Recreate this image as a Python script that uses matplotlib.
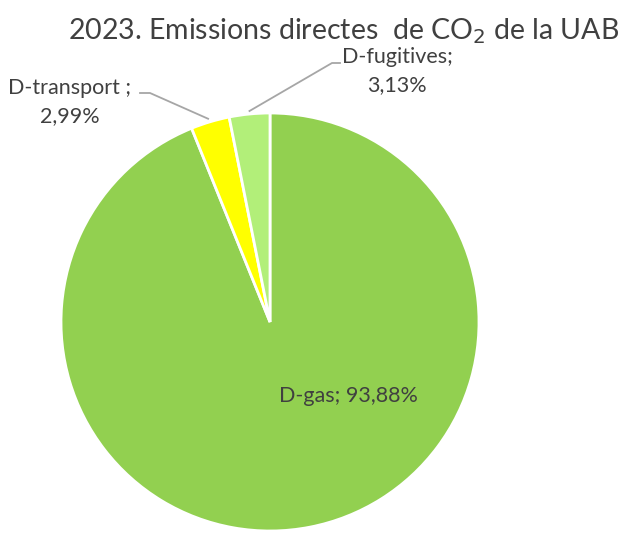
import numpy as np
import matplotlib
matplotlib.use("Agg")
import matplotlib.pyplot as plt

labels = ["D-gas", "D-transport ", "D-fugitives"]
shares = [93.88, 2.99, 3.13]
colors = ["#92D050", "#FFFF00", "#B2EF79"]

plt.rcParams['font.family'] = ['Lato', 'DejaVu Sans']
txtcol = "#404040"

fig = plt.figure(figsize=(6.24, 5.36), dpi=100)
ax = fig.add_axes([0, 0, 1, 1])

cx, cy, r = 270, 536 - 322, 209
wedges, _ = ax.pie(shares, colors=colors, startangle=90, counterclock=False,
                   center=(cx, cy), radius=r, frame=True,
                   wedgeprops=dict(edgecolor="white", linewidth=2))
ax.set_xlim(0, 624)
ax.set_ylim(0, 536)
ax.set_aspect("equal")
ax.axis("off")

def fmt(v):
    return ("%.2f%%" % v).replace(".", ",")

def edge_pt(w, frac=1.0):
    a = np.deg2rad((w.theta1 + w.theta2) / 2)
    return cx + r * frac * np.cos(a), cy + r * frac * np.sin(a)

# D-gas label inside
ax.text(348, 536 - 396, labels[0] + "; " + fmt(shares[0]), ha="center", va="center",
        fontsize=15.5, color=txtcol)

# D-transport label with leader
ax.text(70, 536 - 102, labels[1] + ";\n" + fmt(shares[1]), ha="center", va="center",
        fontsize=15.5, color=txtcol, linespacing=1.45)
px, py = edge_pt(wedges[1], 1.0)
ax.plot([140, 150, px - 2], [536 - 93, 536 - 93, py + 3], color="#A6A6A6", lw=1.3)

# D-fugitives label with leader
ax.text(397, 536 - 71, labels[2] + ";\n" + fmt(shares[2]), ha="center", va="center",
        fontsize=15.5, color=txtcol, linespacing=1.45)
px, py = edge_pt(wedges[2], 1.0)
ax.plot([340, 332, px], [536 - 63, 536 - 63, py + 3], color="#A6A6A6", lw=1.3)

ax.text(344, 536 - 31, "2023. Emissions directes  de CO$_2$ de la UAB", ha="center",
        va="center", fontsize=20.5, color=txtcol)

fig.savefig("out.png", dpi=100)
